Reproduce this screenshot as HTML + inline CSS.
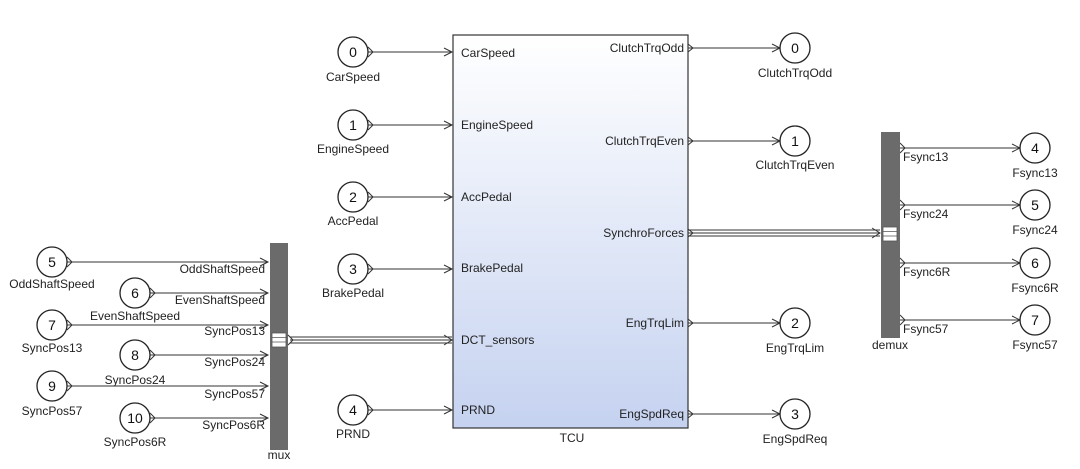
<!DOCTYPE html>
<html><head><style>body{margin:0;background:#fff}svg{display:block;font-family:"Liberation Sans",sans-serif}</style></head><body>
<svg width="1080" height="469" viewBox="0 0 1080 469">
<defs>
<linearGradient id="g" x1="0" y1="0" x2="0" y2="1"><stop offset="0" stop-color="#ffffff"/><stop offset="1" stop-color="#c5d2f0"/></linearGradient>
</defs>
<g font-size="12" fill="#222">
<rect x="453" y="35" width="235" height="393" fill="url(#g)" stroke="#333" stroke-width="1.2"/>
<text x="572" y="442" text-anchor="middle">TCU</text>
<text x="461" y="57">CarSpeed</text><text x="461" y="129">EngineSpeed</text><text x="461" y="201">AccPedal</text><text x="461" y="272">BrakePedal</text><text x="461" y="344">DCT_sensors</text><text x="461" y="414">PRND</text>
<g text-anchor="end"><text x="684" y="52">ClutchTrqOdd</text><text x="684" y="145">ClutchTrqEven</text><text x="684" y="237">SynchroForces</text><text x="684" y="327">EngTrqLim</text><text x="684" y="418">EngSpdReq</text></g>
<g stroke="#333" stroke-width="1" fill="none">
<path d="M368,52H452M368,125H452M368,197H452M368,269H452M368,410H452"/>
<path d="M444,48L452,52L444,56M444,121L452,125L444,129M444,193L452,197L444,201M444,265L452,269L444,273M444,406L452,410L444,414"/>
<path d="M688,48H780M688,141H780M688,323H780M688,414H780"/>
<path d="M772,44L780,48L772,52M772,137L780,141L772,145M772,319L780,323L772,327M772,410L780,414L772,418"/>
<path d="M688,44L693,48L688,52M688,137L693,141L688,145M688,229L693,233L688,237M688,319L693,323L688,327M688,410L693,414L688,418"/>
<path d="M368,47L373,52L368,57M368,120L373,125L368,130M368,192L373,197L368,202M368,264L373,269L368,274M368,405L373,410L368,415"/>
<path d="M688,230H880M688,233H880M688,236H880"/>
<path d="M872,228L880,233L872,238"/>
<path d="M290,337H452M290,340H452M290,343H452"/>
<path d="M444,335L452,340L444,345"/>
<path d="M900,148H1020M900,205H1020M900,263H1020M900,320H1020"/>
<path d="M1012,144L1020,148L1012,152M1012,201L1020,205L1012,209M1012,259L1020,263L1012,267M1012,316L1020,320L1012,324"/>
<path d="M900,143L905,148L900,153M900,200L905,205L900,210M900,258L905,263L900,268M900,315L905,320L900,325"/>
<path d="M67,262H268M150,293H268M67,325H268M150,355H268M67,386H268M150,418H268"/>
<path d="M260,258L268,262L260,266M260,289L268,293L260,297M260,321L268,325L260,329M260,351L268,355L260,359M260,382L268,386L260,390M260,414L268,418L260,422"/>
<path d="M67,257L72,262L67,267M150,288L155,293L150,298M67,320L72,325L67,330M150,350L155,355L150,360M67,381L72,386L67,391M150,413L155,418L150,423"/>
</g>
<g stroke="#222" stroke-width="1.3" fill="#fff">
<circle cx="353" cy="52" r="15"/><circle cx="353" cy="125" r="15"/><circle cx="353" cy="197" r="15"/><circle cx="353" cy="269" r="15"/><circle cx="353" cy="410" r="15"/>
<circle cx="795" cy="48" r="15"/><circle cx="795" cy="141" r="15"/><circle cx="795" cy="323" r="15"/><circle cx="795" cy="414" r="15"/>
<circle cx="1035" cy="148" r="15"/><circle cx="1035" cy="205" r="15"/><circle cx="1035" cy="263" r="15"/><circle cx="1035" cy="320" r="15"/>
<circle cx="52" cy="262" r="15"/><circle cx="135" cy="293" r="15"/><circle cx="52" cy="325" r="15"/><circle cx="135" cy="355" r="15"/><circle cx="52" cy="386" r="15"/><circle cx="135" cy="418" r="15"/>
</g>
<g font-size="14" text-anchor="middle" fill="#111">
<text x="353" y="57">0</text><text x="353" y="130">1</text><text x="353" y="202">2</text><text x="353" y="274">3</text><text x="353" y="415">4</text>
<text x="795" y="53">0</text><text x="795" y="146">1</text><text x="795" y="328">2</text><text x="795" y="419">3</text>
<text x="1035" y="153">4</text><text x="1035" y="210">5</text><text x="1035" y="268">6</text><text x="1035" y="325">7</text>
<text x="52" y="267">5</text><text x="135" y="298">6</text><text x="52" y="330">7</text><text x="135" y="360">8</text><text x="52" y="391">9</text><text x="135" y="423">10</text>
</g>
<g text-anchor="middle">
<text x="353" y="81">CarSpeed</text><text x="353" y="153">EngineSpeed</text><text x="353" y="225">AccPedal</text><text x="353" y="297">BrakePedal</text><text x="353" y="438">PRND</text>
<text x="795" y="77">ClutchTrqOdd</text><text x="795" y="169">ClutchTrqEven</text><text x="795" y="352">EngTrqLim</text><text x="795" y="443">EngSpdReq</text>
<text x="1035" y="177">Fsync13</text><text x="1035" y="234">Fsync24</text><text x="1035" y="292">Fsync6R</text><text x="1035" y="349">Fsync57</text>
<text x="52" y="288">OddShaftSpeed</text><text x="135" y="320">EvenShaftSpeed</text><text x="52" y="352">SyncPos13</text><text x="135" y="384">SyncPos24</text><text x="52" y="415">SyncPos57</text><text x="135" y="446">SyncPos6R</text>
<text x="279" y="459">mux</text><text x="890" y="349">demux</text>
</g>
<g text-anchor="end"><text x="265" y="273">OddShaftSpeed</text><text x="265" y="304">EvenShaftSpeed</text><text x="265" y="335">SyncPos13</text><text x="265" y="366">SyncPos24</text><text x="265" y="398">SyncPos57</text><text x="265" y="429">SyncPos6R</text></g>
<g><text x="903" y="161">Fsync13</text><text x="903" y="218">Fsync24</text><text x="903" y="276">Fsync6R</text><text x="903" y="333">Fsync57</text></g>
<rect x="270" y="243" width="18" height="207" fill="#6b6b6b"/>
<rect x="272" y="333" width="14" height="14" fill="#fff" stroke="#555" stroke-width="0.8"/>
<path d="M272,337.5H286M272,342H286" stroke="#555" stroke-width="0.8"/>
<path d="M288,335L293,340L288,345" fill="none" stroke="#333"/>
<rect x="881" y="132" width="19" height="206" fill="#6b6b6b"/>
<rect x="883" y="227" width="14" height="14" fill="#fff" stroke="#555" stroke-width="0.8"/>
<path d="M883,231.5H897M883,236H897" stroke="#555" stroke-width="0.8"/>
</g>
</svg>
</body></html>
